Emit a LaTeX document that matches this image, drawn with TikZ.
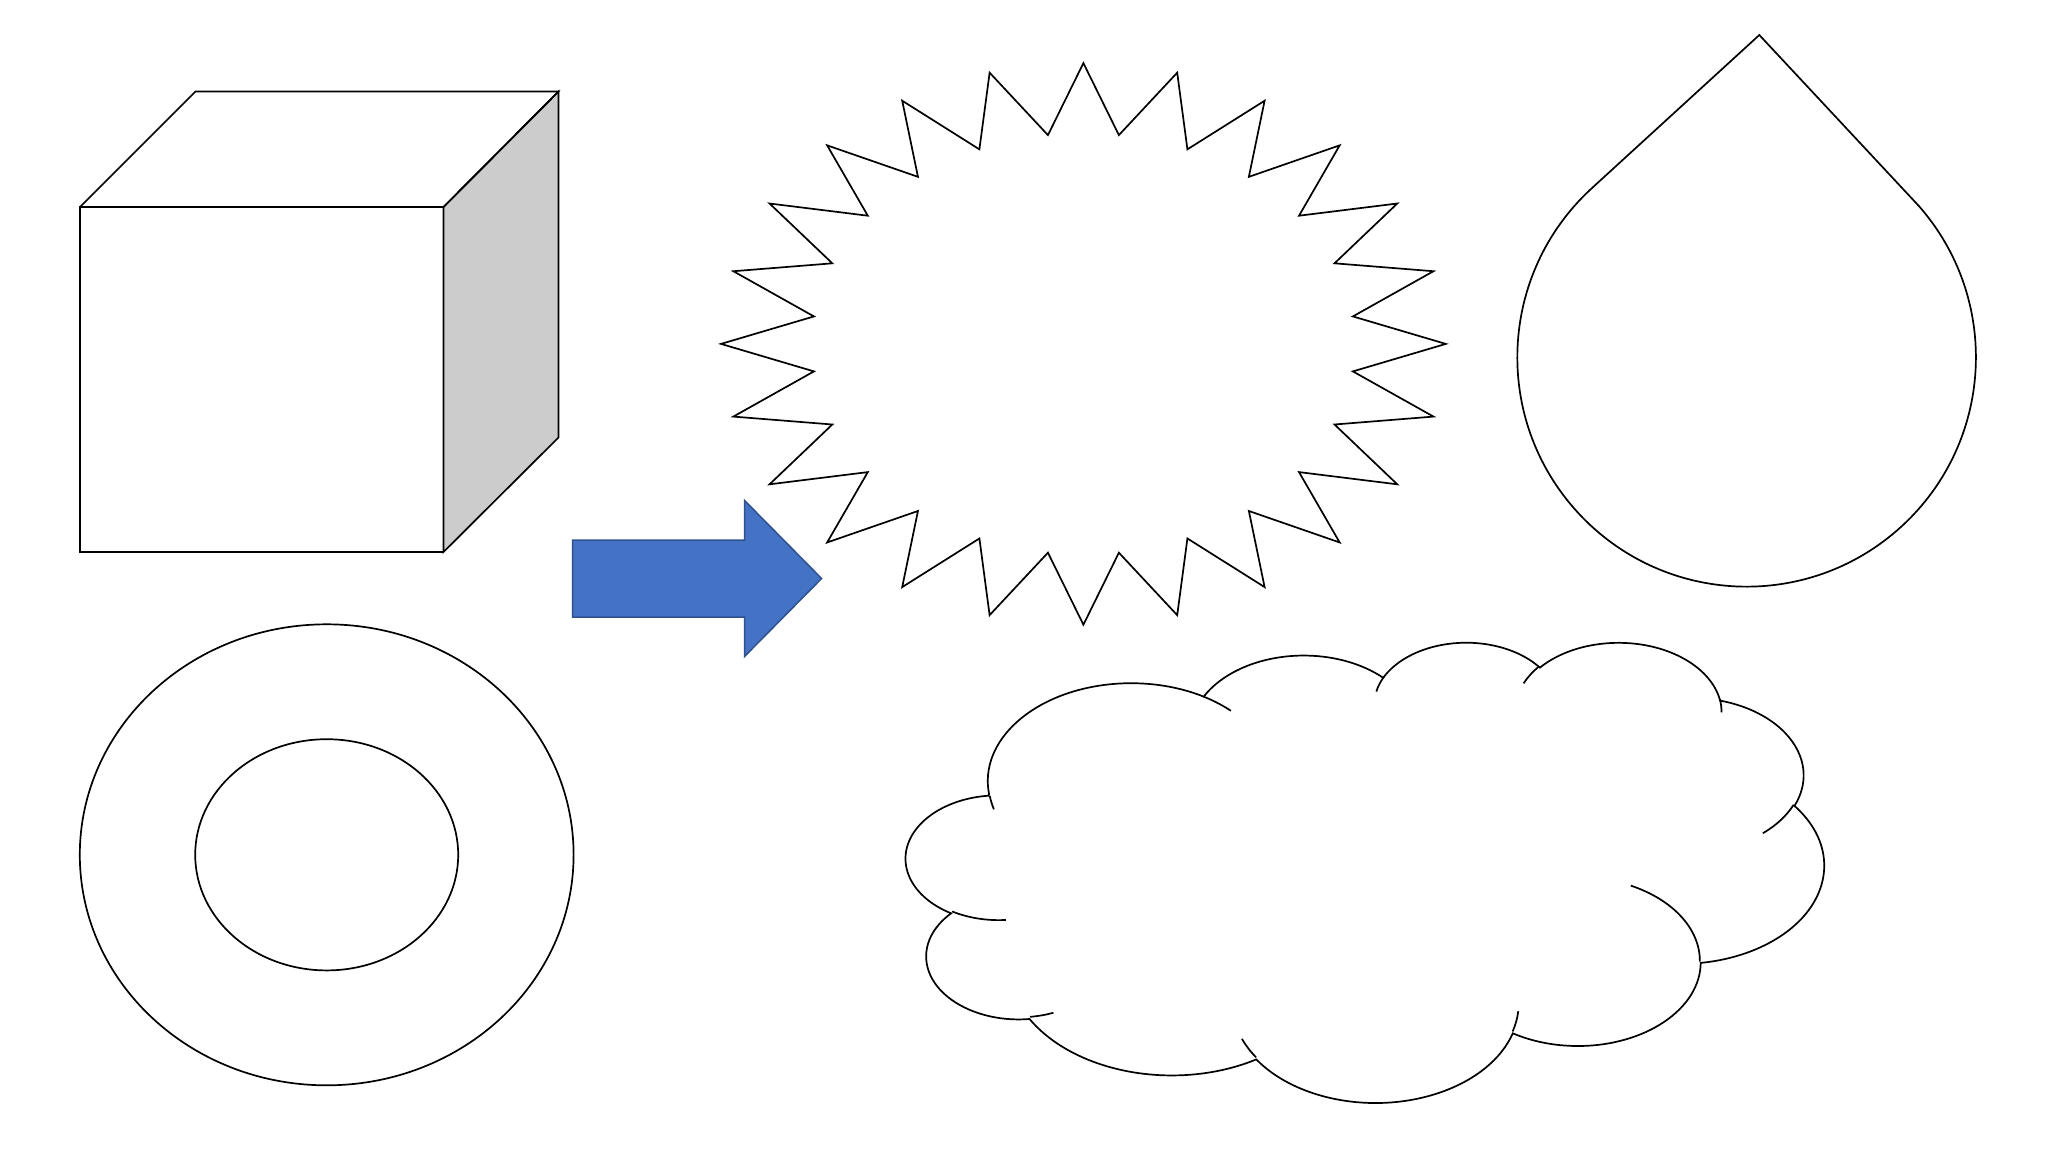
\documentclass[tikz,border=0pt]{standalone}
\definecolor{arrowblue}{HTML}{4472C4}
\definecolor{arrowedge}{HTML}{2F528F}
\definecolor{cubeside}{HTML}{CCCCCC}
\tikzset{
  outline/.style={draw=black,line width=0.85pt,line join=miter},
  declare function={vis(\a,\b,\t)=atan2(\a*sin(\t),\b*cos(\t));}
}
\newcommand{\cloudarc}{arc[start angle={-vis(\lx,\ly,\st)},
    delta angle={-mod(vis(\lx,\ly,\st+\sw)-vis(\lx,\ly,\st)+720,360)},
    x radius={\lx*0.010614pt},y radius={\ly*0.005322pt}]}
\begin{document}
\begin{tikzpicture}[x=0.5pt,y=-0.5pt]
    \useasboundingbox (0,0) rectangle (2048,1152);
    \fill[white] (0,0) rectangle (2048,1152);

    % cube
    \draw[outline,fill=cubeside] (443.5,207) -- (558.5,91.5) -- (558.5,437.5) -- (443.5,552) -- cycle;
    \draw[outline] (80,207) -- (195.5,91.5) -- (558.5,91.5) -- (443.5,207);
    \draw[outline] (80,207) rectangle (443.5,552);

    % arrow
    \draw[draw=arrowedge,fill=arrowblue,line width=0.75pt] (572.7,540) -- (744.5,540) -- (744.5,500.4)
        -- (821.6,578.5) -- (744.5,656.5) -- (744.5,617) -- (572.7,617) -- cycle;

    % burst
    \draw[outline] plot[samples at={0,...,47}]
        ({1083.4+362.4*(1-0.25*mod(\x,2))*cos(90-7.5*\x)},{343.9-280.8*(1-0.25*mod(\x,2))*sin(90-7.5*\x)}) -- cycle;

    % drop
    \draw[outline] (1759.3,35) -- (1591.7,188.3) arc[start angle=132.5,end angle=401.3,radius=114.65pt] -- cycle;

    % ring
    \draw[outline] (326.7,854.8) ellipse [x radius=123.45pt,y radius=115.25pt];
    \draw[outline] (326.7,854.8) ellipse [x radius=65.75pt,y radius=57.8pt];

    % cloud, lobes then the short inner strokes
    \begin{scope}[shift={(906.3,641.3)},x=1.0614pt,y=-0.5322pt]
        \draw[outline] (39,143.7)
            \foreach \lx/\ly/\st/\sw in {6753/9190/-190.4875/123.7805,5333/7267/-144.1024/89.9452,
                4365/5945/-145.8079/99.723,4857/6595/-130.9861/117.2417,5333/7273/-78.7089/109.0269,
                6775/9220/-46.2673/130.269,5785/7867/0.625/114.0333,6752/9215/22.4516/115.1726,
                7720/10543/66.2426/75.711,4360/5918/-274.9421/146.7356,4345/5945/-246.8285/152.5189}
            { \cloudarc } -- cycle;
        \foreach \px/\py/\lx/\ly/\st/\sw in {46.93/261.77/4345/5945/86.742/26.43,
            69.28/348.99/4360/5918/73.61/11.447,164.78/390.9/6752/9215/137.62/14.08,
            288.27/347.51/6752/9215/6.453/15.998,341.29/229.54/5785/7867/-70.29/70.917,
            417.98/153.54/5333/7273/30.318/27.75,383.24/54.26/4857/6595/-13.744/14.74,
            290.78/39.52/4857/6595/-149.18/18.2,221.41/47.2/4365/5945/-163.5/17.69,
            140/51.92/6753/9190/-66.707/12.2,41.27/157.89/6753/9190/158.78/10.73}
            \draw[outline] (\px,\py) \cloudarc;
    \end{scope}
\end{tikzpicture}
\end{document}
